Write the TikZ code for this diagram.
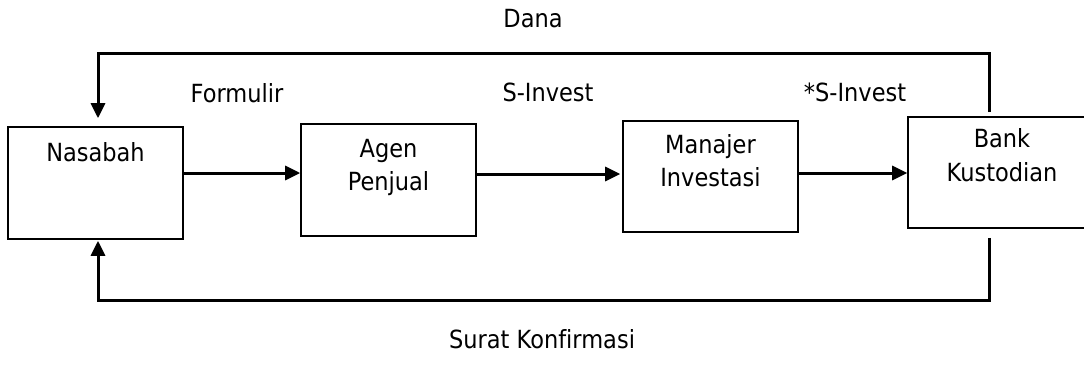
\documentclass[tikz,border=0pt]{standalone}
\usepackage{fontspec}
\setmainfont{DejaVu Sans}[FakeStretch=0.9, Ligatures=NoCommon]
\usetikzlibrary{arrows.meta,calc}
\tikzset{
  box/.style={draw=black, line width=1.6pt, minimum width=175pt, minimum height=112pt, inner sep=0pt},
  txt/.style={anchor=base, inner sep=0pt, font=\fontsize{25}{33}\selectfont},
  arr/.style={line width=3pt, -{Triangle[length=15pt,width=14pt]}},
  conn/.style={line width=3pt}
}
\begin{document}
\begin{tikzpicture}[x=1pt,y=-1pt]
\clip (0,0) rectangle (1084,369);
\fill[white] (0,0) rectangle (1084,369);
% boxes
\node[box] (nas)  at (95.5,183) {};
\node[box] (agen) at (388.5,180) {};
\node[box, minimum height=111pt] (man) at (710.5,176.5) {};
\node[box, minimum width=220pt, minimum height=111pt] (bank) at (1018,172.5) {};
% box texts
\node[txt] (tnas)  at ($(nas.north)+(0,35)$) {Nasabah};
\node[txt] (tagen1) at ($(agen.north)+(0,34)$) {Agen};
\node[txt] (tagen2) at ($(agen.north)+(0,67)$) {Penjual};
\node[txt] (tman1) at ($(man.north)+(0,33)$) {Manajer};
\node[txt] (tman2) at ($(man.north)+(0,66)$) {Investasi};
\node[txt] (tbank1) at ($(bank.north)+(-16,31)$) {Bank};
\node[txt] (tbank2) at ($(bank.north)+(-16,65)$) {Kustodian};
% flow labels
\node[txt] (lform) at (237,102) {Formulir};
\node[txt] (lsinv) at (548,101) {S-Invest};
\node[txt] (lsinv2) at (855,101) {*S-Invest};
\node[txt] (ldana) at (533,28) {Dana};
\node[txt] (lsurat) at (542,348) {Surat Konf{}irmasi};
% forward arrows
\draw[arr] ([yshift=10pt]nas.east) -- ([yshift=10pt]nas.east -| agen.west);
\draw[arr, shorten >=2pt] ([yshift=6pt]agen.east) -- ([yshift=6pt]agen.east -| man.west);
\draw[arr] ([yshift=3.5pt]man.east) -- ([yshift=3.5pt]man.east -| bank.west);
% loops
\coordinate (topR) at (989,54);
\coordinate (topL) at (98,54);
\coordinate (botR) at (989,300);
\coordinate (botL) at (98,300);
\draw[arr, shorten <=4pt, shorten >=8pt] (topR |- bank.north) -- (topR) -- (topL) -- (topL |- nas.north);
\draw[arr, shorten <=9pt, shorten >=1pt] (botR |- bank.south) -- (botR) -- (botL) -- (botL |- nas.south);
\end{tikzpicture}
\end{document}
